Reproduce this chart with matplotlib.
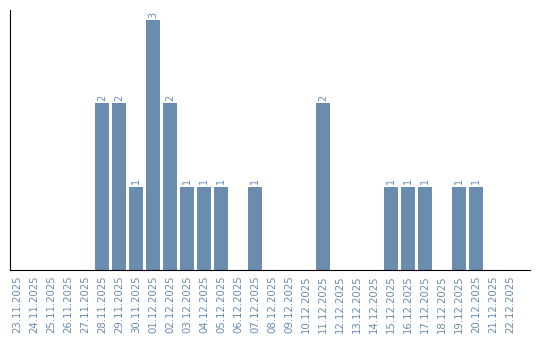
import numpy as np
import matplotlib
matplotlib.use('Agg')
import matplotlib.pyplot as plt

# Dates and counts
dates = ['23.11.2025', '24.11.2025', '25.11.2025', '26.11.2025', '27.11.2025',
         '28.11.2025', '29.11.2025', '30.11.2025', '01.12.2025', '02.12.2025',
         '03.12.2025', '04.12.2025', '05.12.2025', '06.12.2025', '07.12.2025',
         '08.12.2025', '09.12.2025', '10.12.2025', '11.12.2025', '12.12.2025',
         '13.12.2025', '14.12.2025', '15.12.2025', '16.12.2025', '17.12.2025',
         '18.12.2025', '19.12.2025', '20.12.2025', '21.12.2025', '22.12.2025']
counts = [0, 0, 0, 0, 0,
          2, 2, 1, 3, 2,
          1, 1, 1, 0, 1,
          0, 0, 0, 2, 0,
          0, 0, 1, 1, 1,
          0, 1, 1, 0, 0]

bar_col = '#6a8caf'

fig = plt.figure(figsize=(5.4, 3.4), dpi=100)
ax = fig.add_axes([0.0185, 0.206, 0.963, 0.764])

x = np.arange(len(dates))
bars = ax.bar(x, counts, width=0.82, color=bar_col)

# value labels on top of non-empty bars
for xi, v in zip(x, counts):
    if v > 0:
        ax.text(xi, v + 0.03, str(v), rotation=90, ha='center', va='bottom',
                fontsize=7, color=bar_col)

ax.set_xlim(-0.41, 30.18)
ax.set_ylim(0, 3.12)
ax.set_xticks(x)
ax.set_xticklabels(dates, rotation=90, fontsize=7.3, color=bar_col)
ax.tick_params(axis='x', length=0, pad=4)
ax.set_yticks([])

ax.spines['top'].set_visible(False)
ax.spines['right'].set_visible(False)

fig.savefig('out.png', dpi=100)
